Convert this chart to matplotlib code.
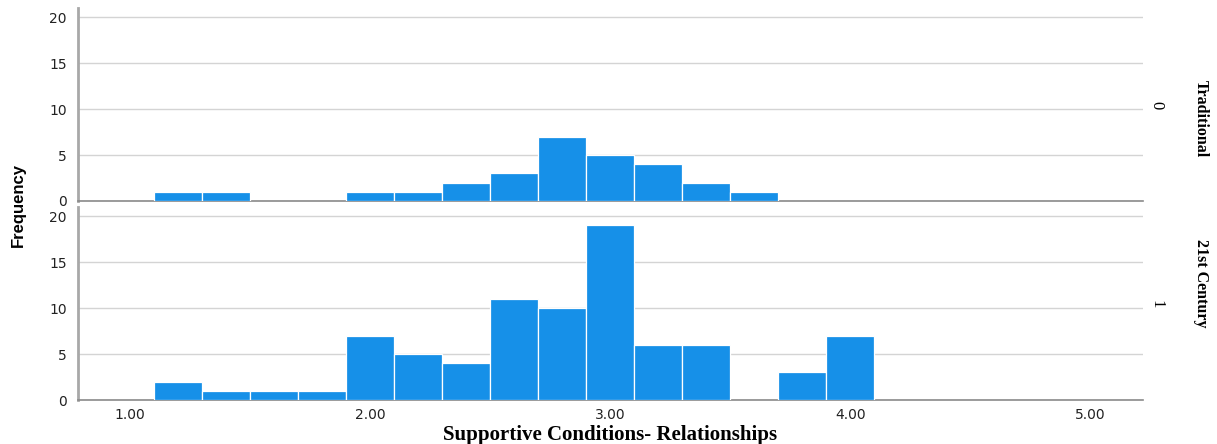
import numpy as np
import matplotlib.pyplot as plt

# histogram bins (left edges, width 0.2) and counts per group
bin_left = [1.1, 1.3, 1.5, 1.7, 1.9, 2.1, 2.3, 2.5, 2.7, 2.9, 3.1, 3.3, 3.5, 3.7, 3.9]
counts_traditional = [1, 1, 0, 0, 1, 1, 2, 3, 7, 5, 4, 2, 1, 0, 0]
counts_21st = [2, 1, 1, 1, 7, 5, 4, 11, 10, 19, 6, 6, 0, 3, 7]

groups = [("0", "Traditional", counts_traditional), ("1", "21st Century", counts_21st)]
x_ticks = [1.0, 2.0, 3.0, 4.0, 5.0]
y_ticks = [0, 5, 10, 15, 20]

bar_color = "#1690e8"
W, H = 1217, 444
fig = plt.figure(figsize=(W / 100, H / 100), dpi=100)

left, right = 78 / W, 1143 / W
panels = [(8, 201), (207, 400)]      # top/bottom pixel rows of each panel
code_y = [105, 304]                  # pixel rows of the facet codes
name_y = [119, 283]                  # pixel rows of the facet names
axes = []
for i, ((top_px, bot_px), (code, name, counts)) in enumerate(zip(panels, groups)):
    ax = fig.add_axes([left, 1 - bot_px / H, right - left, (bot_px - top_px) / H])
    axes.append(ax)
    edges = np.array(bin_left)
    c = np.array(counts)
    m = c > 0
    ax.bar(edges[m], c[m], width=0.2, align="edge", color=bar_color,
           edgecolor="white", linewidth=0.9, zorder=3)
    ax.set_xlim(0.783, 5.22)
    ax.set_ylim(0, 20.98)
    ax.set_yticks(y_ticks)
    ax.set_yticklabels([str(t) for t in y_ticks], fontsize=10, color="#222222")
    ax.grid(axis="y", color="#d4d4d4", linewidth=1.0, zorder=0)
    ax.set_xticks(x_ticks)
    ax.tick_params(length=0, pad=8)
    for s in ("top", "right"):
        ax.spines[s].set_visible(False)
    ax.spines["left"].set_color("#a8a8a8")
    ax.spines["left"].set_linewidth(2.0)
    ax.spines["bottom"].set_color("#8a8a8a")
    ax.spines["bottom"].set_linewidth(1.2)
    # facet labels on the right
    fig.text(1156 / W, 1 - code_y[i] / H, code, rotation=-90, ha="center", va="center",
             family="Liberation Serif", fontsize=12)
    fig.text(1201 / W, 1 - name_y[i] / H, name, rotation=-90, ha="center", va="center",
             family="Liberation Serif", fontweight="bold", fontsize=11.5)

axes[0].set_xticklabels([])
axes[1].set_xticklabels(["%.2f" % t for t in x_ticks], fontsize=10, color="#222222")
axes[1].tick_params(axis="x", pad=6)

fig.text(18 / W, 1 - 205 / H, "Frequency", rotation=90, ha="center", va="center",
         family="Liberation Sans", fontweight="bold", fontsize=12)
fig.text(610 / W, 1 - 435 / H, "Supportive Conditions- Relationships", ha="center",
         va="center", family="Liberation Serif", fontweight="bold", fontsize=15)

fig.savefig("out.png", dpi=100)
